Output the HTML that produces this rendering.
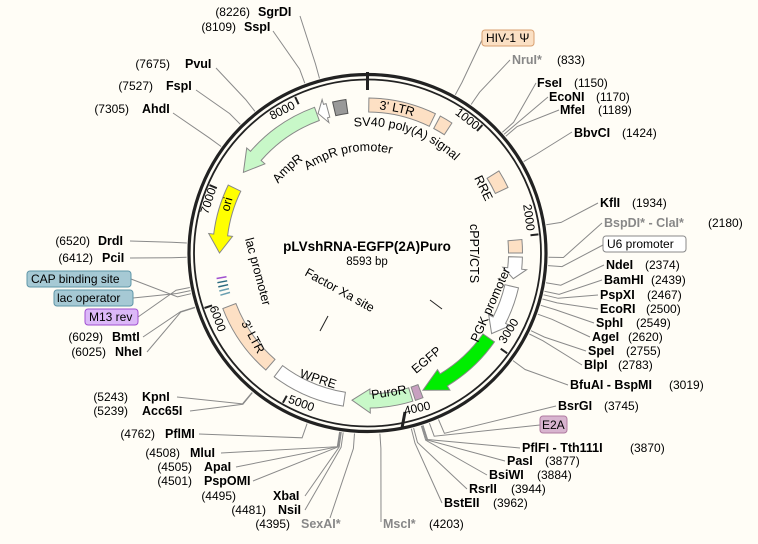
<!DOCTYPE html>
<html><head><meta charset="utf-8"><style>
html,body{margin:0;padding:0;background:#fffdf6;}
svg{display:block;font-family:"Liberation Sans","DejaVu Sans",sans-serif;}
.n{font-weight:bold;font-size:12.5px;fill:#000}
.p{font-size:12px;fill:#000}
.g{font-weight:bold;font-size:12.5px;fill:#888}
.f{font-size:12px;fill:#000}
.l{stroke:#8a8a8a;stroke-width:1;fill:none}
</style></head><body>
<svg id="s" width="758" height="544" viewBox="0 0 758 544" xmlns="http://www.w3.org/2000/svg">
<rect width="758" height="544" fill="#fffdf6"/>
<g id="leaders"></g>
<g id="feat"></g>
<circle cx="367.5" cy="253" r="178.5" fill="none" stroke="#222" stroke-width="3.2"/>
<circle cx="367.5" cy="253" r="173.5" fill="none" stroke="#222" stroke-width="1.8"/>
<g id="ticks"></g>
<line x1="367.5" y1="72" x2="367.5" y2="90" stroke="#222" stroke-width="3"/>
<line x1="405" y1="412" x2="402" y2="428" stroke="#222" stroke-width="3"/>

<!-- tick labels -->
<g class="f" text-anchor="middle">
<text transform="translate(465,122) rotate(38)">1000</text>
<text transform="translate(525,218) rotate(82)">2000</text>
<text transform="translate(512,333) rotate(-58)">3000</text>
<text transform="translate(418,412) rotate(-12)">4000</text>
<text transform="translate(300,407) rotate(20)">5000</text>
<text transform="translate(214,320) rotate(70)">6000</text>
<text transform="translate(212,202) rotate(-72)">7000</text>
<text transform="translate(284,114) rotate(-27)">8000</text>
</g>

<!-- center -->
<text x="367" y="251" text-anchor="middle" style="font-weight:bold;font-size:13.5px">pLVshRNA-EGFP(2A)Puro</text>
<text x="367" y="265" text-anchor="middle" style="font-size:11.5px">8593 bp</text>

<!-- inner feature labels -->
<defs>
<path id="c1" d="M 367.5 380 A 127 127 0 1 1 367.51 380"/>
<path id="c2" d="M 367.5 366 A 113 113 0 1 1 367.51 366"/>
<path id="c3" d="M 367.5 355 A 102 102 0 1 1 367.51 355"/>
<path id="c4" d="M 367.5 401 A 148 148 0 1 1 367.51 401"/>
</defs>
<g class="f" style="font-size:12.5px">
<text><textPath href="#c1" startOffset="48.3%">SV40 poly(A) signal</textPath></text>
<text><textPath href="#c2" startOffset="35.5%">AmpR</textPath></text>
<text><textPath href="#c3" startOffset="40%">AmpR promoter</textPath></text>
<text dy="4"><textPath href="#c4" startOffset="51.3%">3' LTR</textPath></text>
<text transform="translate(474,178) rotate(64)">RRE</text>
<text transform="translate(470,224) rotate(90)">cPPT/CTS</text>
<text transform="translate(478,343) rotate(-66)">PGK promoter</text>
<text transform="translate(416,374) rotate(-40)">EGFP</text>
<text transform="translate(372,399) rotate(-9)">PuroR</text>
<text transform="translate(299,377) rotate(18)">WPRE</text>
<text transform="translate(241,323) rotate(62)">3' LTR</text>
<text transform="translate(245,239) rotate(75)">lac promoter</text>
<text transform="translate(229,212) rotate(-75)">ori</text>
<text transform="translate(304,275) rotate(29)">Factor Xa site</text>
</g>
<line x1="430" y1="300" x2="442" y2="309" stroke="#222"/>
<line x1="320" y1="331" x2="328" y2="316" stroke="#222"/>

<!-- labels left/top -->
<g>
<text x="250" y="16" class="p" text-anchor="end">(8226)</text><text x="258" y="16" class="n">SgrDI</text>
<text x="236" y="31" class="p" text-anchor="end">(8109)</text><text x="244" y="31" class="n">SspI</text>
<text x="170" y="68" class="p" text-anchor="end">(7675)</text><text x="185" y="68" class="n">PvuI</text>
<text x="153" y="90" class="p" text-anchor="end">(7527)</text><text x="166" y="90" class="n">FspI</text>
<text x="129" y="113" class="p" text-anchor="end">(7305)</text><text x="142" y="113" class="n">AhdI</text>
<text x="90" y="245" class="p" text-anchor="end">(6520)</text><text x="98" y="245" class="n">DrdI</text>
<text x="93" y="262" class="p" text-anchor="end">(6412)</text><text x="102" y="262" class="n">PciI</text>
<text x="103" y="341" class="p" text-anchor="end">(6029)</text><text x="112" y="341" class="n">BmtI</text>
<text x="106" y="356" class="p" text-anchor="end">(6025)</text><text x="115" y="356" class="n">NheI</text>
<text x="128" y="401" class="p" text-anchor="end">(5243)</text><text x="142" y="401" class="n">KpnI</text>
<text x="128" y="415" class="p" text-anchor="end">(5239)</text><text x="142" y="415" class="n">Acc65I</text>
<text x="155" y="438" class="p" text-anchor="end">(4762)</text><text x="165" y="438" class="n">PflMI</text>
<text x="180" y="457" class="p" text-anchor="end">(4508)</text><text x="190" y="457" class="n">MluI</text>
<text x="192" y="471" class="p" text-anchor="end">(4505)</text><text x="204" y="471" class="n">ApaI</text>
<text x="192" y="485" class="p" text-anchor="end">(4501)</text><text x="204" y="485" class="n">PspOMI</text>
<text x="236" y="500" class="p" text-anchor="end">(4495)</text><text x="273" y="500" class="n">XbaI</text>
<text x="266" y="514" class="p" text-anchor="end">(4481)</text><text x="278" y="514" class="n">NsiI</text>
<text x="290" y="528" class="p" text-anchor="end">(4395)</text><text x="301" y="528" class="g">SexAI*</text>
<text x="383" y="528" class="g">MscI*</text><text x="429" y="528" class="p">(4203)</text>
</g>
<!-- right labels -->
<g>
<text x="512" y="64" class="g">NruI*</text><text x="557" y="64" class="p">(833)</text>
<text x="537" y="87" class="n">FseI</text><text x="574" y="87" class="p">(1150)</text>
<text x="549" y="101" class="n">EcoNI</text><text x="596" y="101" class="p">(1170)</text>
<text x="560" y="114" class="n">MfeI</text><text x="598" y="114" class="p">(1189)</text>
<text x="574" y="137" class="n">BbvCI</text><text x="622" y="137" class="p">(1424)</text>
<text x="600" y="207" class="n">KflI</text><text x="632" y="207" class="p">(1934)</text>
<text x="604" y="227" class="g">BspDI* - ClaI*</text><text x="708" y="227" class="p">(2180)</text>
<text x="606" y="269" class="n">NdeI</text><text x="645" y="269" class="p">(2374)</text>
<text x="604" y="284" class="n">BamHI</text><text x="651" y="284" class="p">(2439)</text>
<text x="600" y="299" class="n">PspXI</text><text x="647" y="299" class="p">(2467)</text>
<text x="600" y="313" class="n">EcoRI</text><text x="646" y="313" class="p">(2500)</text>
<text x="596" y="327" class="n">SphI</text><text x="636" y="327" class="p">(2549)</text>
<text x="592" y="341" class="n">AgeI</text><text x="628" y="341" class="p">(2620)</text>
<text x="588" y="355" class="n">SpeI</text><text x="626" y="355" class="p">(2755)</text>
<text x="584" y="369" class="n">BlpI</text><text x="618" y="369" class="p">(2783)</text>
<text x="570" y="389" class="n">BfuAI - BspMI</text><text x="669" y="389" class="p">(3019)</text>
<text x="558" y="410" class="n">BsrGI</text><text x="604" y="410" class="p">(3745)</text>
<text x="522" y="452" class="n">PflFI - Tth111I</text><text x="630" y="452" class="p">(3870)</text>
<text x="507" y="465" class="n">PasI</text><text x="545" y="465" class="p">(3877)</text>
<text x="489" y="479" class="n">BsiWI</text><text x="537" y="479" class="p">(3884)</text>
<text x="469" y="493" class="n">RsrII</text><text x="511" y="493" class="p">(3944)</text>
<text x="444" y="507" class="n">BstEII</text><text x="493" y="507" class="p">(3962)</text>
</g>
<!-- feature boxes -->
<rect x="482" y="30" width="52" height="16" rx="3" fill="#fbe0c4" stroke="#d9a070"/>
<text x="486" y="42" class="p">HIV-1 Ψ</text>
<rect x="603" y="236" width="83" height="16" rx="3" fill="#fff" stroke="#888"/>
<text x="607" y="248" class="p">U6 promoter</text>
<rect x="540" y="416" width="27" height="17" rx="3" fill="#d8b4cf" stroke="#b07aa0"/>
<text x="542" y="429" class="p">E2A</text>
<rect x="27" y="271" width="104" height="16" rx="3" fill="#a6c9d4" stroke="#5f96a8"/>
<text x="31" y="283" class="p">CAP binding site</text>
<rect x="54" y="290" width="79" height="16" rx="3" fill="#a6c9d4" stroke="#5f96a8"/>
<text x="57" y="302" class="p">lac operator</text>
<rect x="85" y="309" width="53" height="16" rx="3" fill="#dcb8f8" stroke="#a050d0"/>
<text x="89" y="321" class="p">M13 rev</text>
</svg>
<script>
(function(){
var cx=367.5,cy=253,NS="http://www.w3.org/2000/svg";
function P(a,r){var t=a*Math.PI/180;return [cx+r*Math.sin(t),cy-r*Math.cos(t)];}
function el(g,tag,at){var e=document.createElementNS(NS,tag);for(var k in at)e.setAttribute(k,at[k]);document.getElementById(g).appendChild(e);return e;}
function f(p){return p[0].toFixed(1)+" "+p[1].toFixed(1);}
var R1=141,R2=155;
function box(a1,a2,fill,st){var p1=P(a1,R2),p2=P(a2,R2),p3=P(a2,R1),p4=P(a1,R1);
el("feat","path",{d:"M"+f(p1)+" A"+R2+" "+R2+" 0 0 1 "+f(p2)+" L"+f(p3)+" A"+R1+" "+R1+" 0 0 0 "+f(p4)+"Z",fill:fill,stroke:st||"#888","stroke-width":1});}
function arrow(a1,a2,fill,h){ // from a1 to a2 (tip), cw if a2>a1
 var d=a2>a1?1:-1,b=a2-d*h,rm=(R1+R2)/2;
 var s1=P(a1,R2),s2=P(b,R2),h1=P(b,R2+5),tip=P(a2,rm),h2=P(b,R1-5),s3=P(b,R1),s4=P(a1,R1);
 var sw=d>0?1:0,sw2=d>0?0:1;
 el("feat","path",{d:"M"+f(s1)+" A"+R2+" "+R2+" 0 0 "+sw+" "+f(s2)+" L"+f(h1)+" L"+f(tip)+" L"+f(h2)+" L"+f(s3)+" A"+R1+" "+R1+" 0 0 "+sw2+" "+f(s4)+"Z",fill:fill,stroke:"#888","stroke-width":1});}
box(0.5,26,"#fde0c4");box(28,33,"#fde0c4");box(58,65,"#fde0c4");box(85,90,"#fde0c4");
arrow(91.5,100,"#fff",4);arrow(103,123,"#fff",6);
arrow(125,158,"#00ee00",9);box(159,162,"#c8a0c0");arrow(163,186,"#c8f8c8",7);
box(189,217,"#fff");box(221,249,"#fde0c4");
arrow(296,270,"#ffff00",7);arrow(340,303,"#c8f8c8",8);arrow(344.5,340.5,"#fff",3);box(347,352,"#999","#555");
// lac stuff
for(var i=0;i<5;i++){var a=254+i*1.6;var q1=P(a,144),q2=P(a+1.3,152);
 el("feat","path",{d:"M"+f(P(a,143))+" L"+f(P(a,153)),stroke:i<2?"#6a9fb0":(i<4?"#2a6a80":"#a050d0"),"stroke-width":1.5});}
// ticks
for(var k=1;k<=8;k++){if(k==4)continue;var a=k*1000/8593*360;el("ticks","path",{d:"M"+f(P(a,172))+" L"+f(P(a,164)),stroke:"#222","stroke-width":2});}
// leaders: [bp, x, y]
var L=[[8226,300,16],[8109,273,31],[7675,216,68],[7527,196,90],[7305,173,113],
[6520,130,241],[6412,130,258],[6029,143,337],[6025,147,352],[5243,177,397],[5239,190,411],[4762,199,434],
[4508,221,453],[4505,236,467],[4501,253,481],[4495,305,496],[4481,305,510],[4395,330,518],[4203,381,522],
[833,510,60],[1150,536,83],[1170,548,97],[1189,559,110],[1424,572,132],[1934,598,203],[2180,602,223],
[2374,604,265],[2439,602,280],[2467,598,295],[2500,598,309],[2549,594,323],[2620,590,337],[2755,586,351],[2783,582,365],
[3019,568,385],[3745,556,406],[3870,520,448],[3877,505,461],[3884,487,475],[3944,467,489],[3962,442,503]];
L.forEach(function(v){var a=v[0]/8593*360,p=P(a,181),q=P(a,196);
 el("leaders","path",{d:"M"+f(p)+" L"+f(q)+" L"+v[1]+" "+v[2],"class":"l"});});
// feature box leaders
[[29,482,40],[94,603,245],[160,540,425],[257,131,279],[258,133,298],[259,138,317]].forEach(function(v){
 var p=P(v[0],181),q=P(v[0],195);el("leaders","path",{d:"M"+f(p)+" L"+f(q)+" L"+v[1]+" "+v[2],"class":"l"});});
})();
</script>
</body></html>
